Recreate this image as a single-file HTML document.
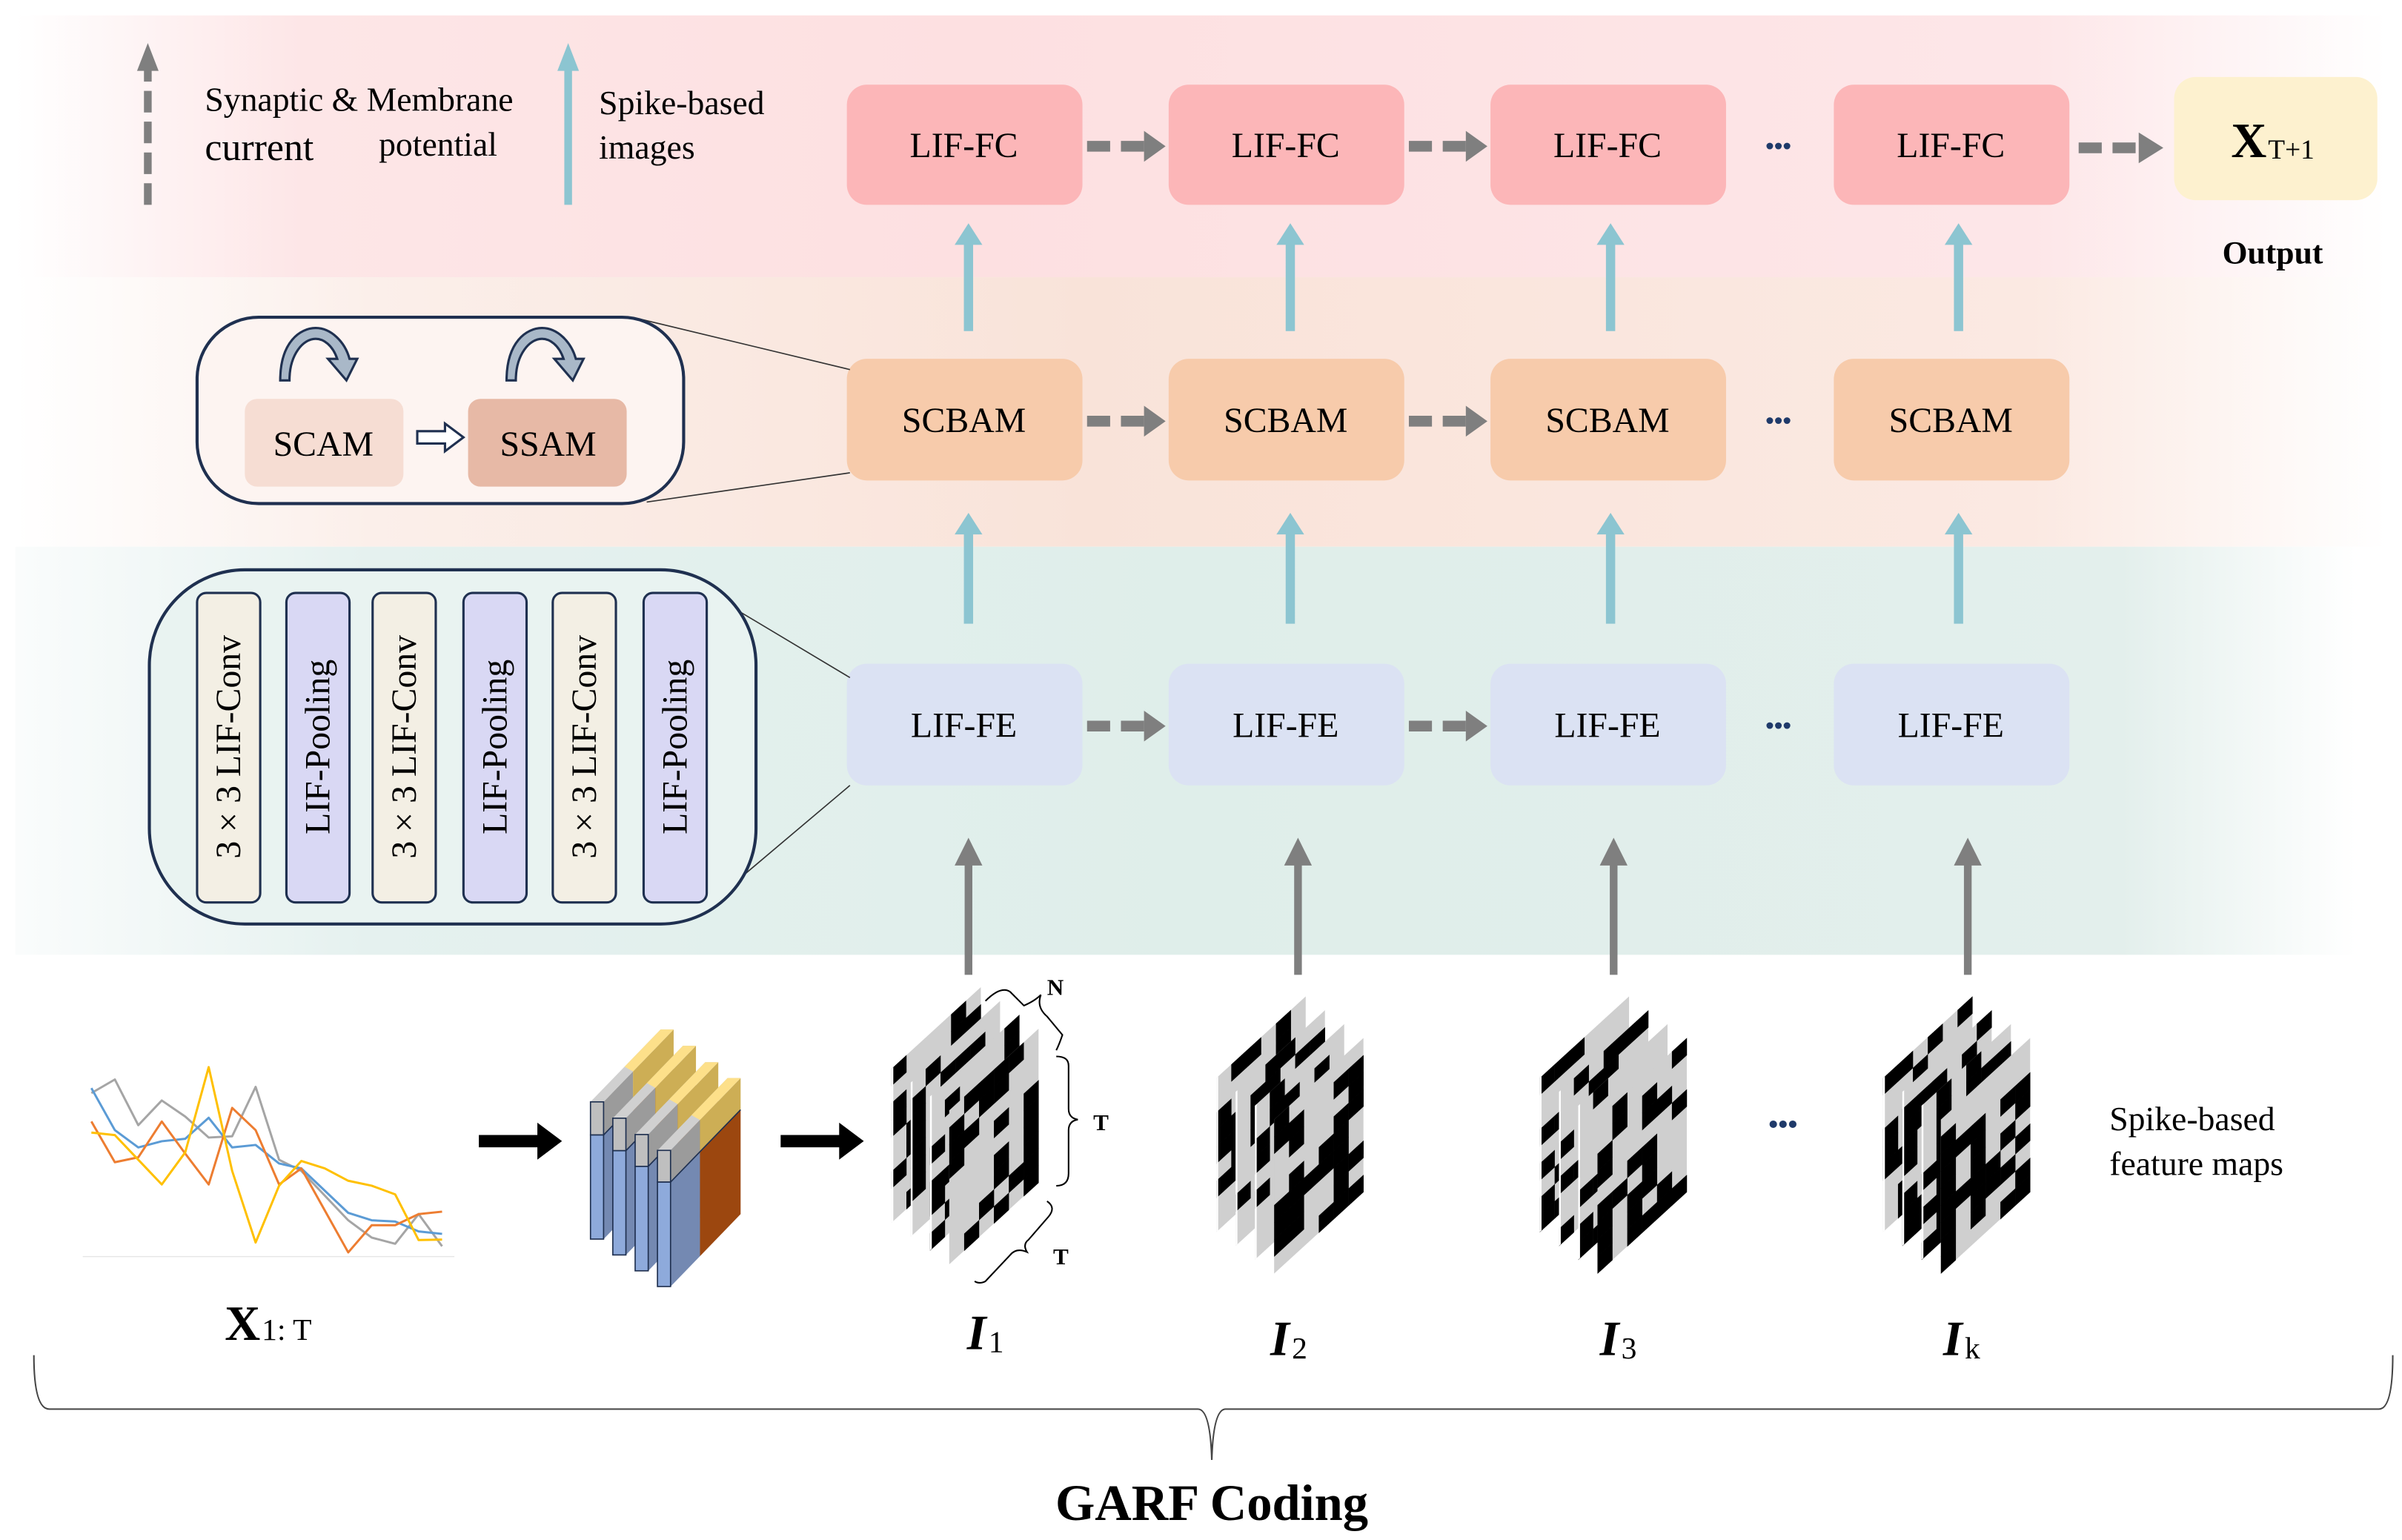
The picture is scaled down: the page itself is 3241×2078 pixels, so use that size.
<!DOCTYPE html>
<html><head><meta charset="utf-8"><style>
html,body{margin:0;padding:0;background:#fff;}
svg{display:block;}
text{font-family:"Liberation Serif",serif;}
</style></head><body>
<svg id="s" width="3241" height="2078" viewBox="0 0 1560 1000" preserveAspectRatio="none" xmlns="http://www.w3.org/2000/svg">
<defs>
<linearGradient id="gp" x1="0" x2="1" y1="0" y2="0">
<stop offset="0" stop-color="#fff"/><stop offset="0.12" stop-color="#fde6e7"/><stop offset="0.4" stop-color="#fde0e1"/><stop offset="0.85" stop-color="#fde6e8"/><stop offset="1" stop-color="#fff"/></linearGradient>
<linearGradient id="go" x1="0" x2="1" y1="0" y2="0">
<stop offset="0" stop-color="#fff"/><stop offset="0.15" stop-color="#fbefea"/><stop offset="0.45" stop-color="#f9e3d9"/><stop offset="0.85" stop-color="#fbe9e2"/><stop offset="1" stop-color="#fff"/></linearGradient>
<linearGradient id="gt" x1="0" x2="1" y1="0" y2="0">
<stop offset="0" stop-color="#fafcfc"/><stop offset="0.15" stop-color="#e5f1ef"/><stop offset="0.5" stop-color="#dfeeea"/><stop offset="0.9" stop-color="#e3efec"/><stop offset="1" stop-color="#fff"/></linearGradient>
<marker id="ag" markerWidth="4" markerHeight="4" refX="2" refY="2" orient="auto" markerUnits="strokeWidth"><path d="M0,0 L4,2 L0,4z" fill="#7f7f7f"/></marker>
</defs>
<rect x="10" y="10" width="1540" height="170" fill="url(#gp)"/>
<rect x="10" y="180" width="1540" height="175" fill="url(#go)"/>
<rect x="10" y="355" width="1520" height="265" fill="url(#gt)"/>

<!-- legend -->
<line x1="96" y1="133" x2="96" y2="44" stroke="#7f7f7f" stroke-width="5" stroke-dasharray="14,6"/>
<path d="M89,46 L96,28 L103,46z" fill="#7f7f7f"/>
<line x1="369" y1="133" x2="369" y2="44" stroke="#8cc5d1" stroke-width="5"/>
<path d="M362,46 L369,28 L376,46z" fill="#8cc5d1"/>
<text x="133" y="72" font-size="22">Synaptic &amp; Membrane</text>
<text x="133" y="104" font-size="25">current</text>
<text x="246" y="101" font-size="22">potential</text>
<text x="389" y="74" font-size="22">Spike-based</text>
<text x="389" y="103" font-size="22">images</text>

<g id="boxes"></g>

<!-- output -->
<rect x="1412" y="50" width="132" height="80" rx="14" fill="#fdf1cf"/>
<text x="1449" y="102" font-size="32" font-weight="bold">X</text>
<text x="1473" y="103" font-size="18">T+1</text>
<text x="1476" y="171" font-size="21" font-weight="bold" text-anchor="middle">Output</text>

<!-- SCAM callout -->
<line x1="415" y1="207" x2="552" y2="240" stroke="#333" stroke-width="0.8"/>
<line x1="420" y1="326" x2="552" y2="307" stroke="#333" stroke-width="0.8"/>
<rect x="128" y="206" width="316" height="121" rx="40" fill="#fdf4f1" stroke="#1f3050" stroke-width="2"/>
<rect x="159" y="259" width="103" height="57" rx="8" fill="#f6ddd3"/>
<rect x="304" y="259" width="103" height="57" rx="8" fill="#e7b9a6"/>
<text x="210" y="296" font-size="23" text-anchor="middle">SCAM</text>
<text x="356" y="296" font-size="23" text-anchor="middle">SSAM</text>
<path d="M271,280 h18 v-5 l12,9 l-12,9 v-5 h-18z" fill="#fff" stroke="#1f3050" stroke-width="1.5"/>
<g fill="#a9b8c8" stroke="#1f3050" stroke-width="1.5">
<path d="M182,247 C182,222 195,213 205,213 C215,213 224,222 227,233 L232,233 L225,247 L213,233 L219,233 C216,224 210,220 205,220 C197,220 188,230 188,247z"/>
<path d="M329,247 C329,222 342,213 352,213 C362,213 371,222 374,233 L379,233 L372,247 L360,233 L366,233 C363,224 357,220 352,220 C344,220 335,230 335,247z"/>
</g>

<!-- LIF-FE callout -->
<line x1="455" y1="382" x2="552" y2="440" stroke="#333" stroke-width="0.8"/>
<line x1="475" y1="575" x2="552" y2="510" stroke="#333" stroke-width="0.8"/>
<rect x="97" y="370" width="394" height="230" rx="62" fill="#e9f3f1" stroke="#1f3050" stroke-width="2"/>
<g id="fe"></g>

<!-- bottom -->
<g id="chart" transform="translate(48.12,673.7) scale(0.1604)" fill="none" stroke-width="9" stroke-linejoin="round">
<line x1="35" y1="887" x2="1540" y2="887" stroke="#e6e6e6" stroke-width="4"/>
<polyline stroke="#a5a5a5" points="70,225 165,170 260,355 355,255 450,320 545,405 640,400 735,200 830,495 920,540 1015,640 1110,740 1205,810 1300,835 1395,715 1490,845"/>
<polyline stroke="#5b9bd5" points="70,205 165,375 260,445 355,420 450,410 545,325 640,445 735,435 830,510 920,530 1015,620 1110,710 1205,740 1300,745 1395,785 1490,795"/>
<polyline stroke="#ed7d31" points="70,340 165,505 260,485 355,340 450,470 545,595 640,285 735,375 830,595 920,530 1015,700 1110,870 1205,760 1300,760 1395,715 1490,705"/>
<polyline stroke="#ffc000" points="70,385 165,395 260,495 355,595 450,465 545,120 640,540 735,830 830,600 920,500 1015,530 1110,580 1205,600 1300,635 1395,820 1490,818"/>
</g>
<path d="M311,737 h38 v-8 l16,12 l-16,12 v-8 h-38z" fill="#000"/>
<path d="M507,737 h38 v-8 l16,12 l-16,12 v-8 h-38z" fill="#000"/>
<g id="slabs"></g>
<g id="maps"></g>

<text x="146" y="870" font-size="32" font-weight="bold">X</text>
<text x="170" y="870" font-size="20">1:  T</text>
<text x="628" y="876" font-size="32" font-weight="bold" font-style="italic">I</text><text x="642" y="878" font-size="20">1</text>
<text x="825" y="880" font-size="32" font-weight="bold" font-style="italic">I</text><text x="839" y="882" font-size="20">2</text>
<text x="1039" y="880" font-size="32" font-weight="bold" font-style="italic">I</text><text x="1053" y="882" font-size="20">3</text>
<text x="1262" y="880" font-size="32" font-weight="bold" font-style="italic">I</text><text x="1276" y="882" font-size="20">k</text>
<text x="1370" y="734" font-size="22">Spike-based</text>
<text x="1370" y="763" font-size="22">feature maps</text>
<text x="1158" y="736" font-size="18" fill="#1f3a6a" text-anchor="middle" font-weight="bold">•••</text>
<text x="680" y="646" font-size="15" font-family="Liberation Sans" font-weight="bold">N</text>
<text x="710" y="734" font-size="15" font-family="Liberation Sans" font-weight="bold">T</text>
<text x="684" y="821" font-size="15" font-family="Liberation Sans" font-weight="bold">T</text>
<path d="M640,650 Q650,640 656,644 L665,653 Q672,650 676,646 Q673,654 680,660 L690,672 Q688,678 686,682" fill="none" stroke="#000" stroke-width="1"/>
<path d="M686,686 Q694,686 694,692 L694,720 Q694,726 700,727 Q694,728 694,734 L694,762 Q694,770 686,770" fill="none" stroke="#000" stroke-width="1"/>
<path d="M680,780 Q686,784 681,790 L668,805 Q664,808 667,813 Q660,810 656,815 L640,832 Q636,834 633,832" fill="none" stroke="#000" stroke-width="1"/>

<path d="M22,880 Q22,915 32,915 L778,915 Q786,915 787,948 Q788,915 796,915 L1545,915 Q1554,915 1554,880" fill="none" stroke="#444" stroke-width="1"/>
<text x="787" y="987" font-size="33" font-weight="bold" text-anchor="middle">GARF  Coding</text>
</svg>
<script>
(function(){
var NS="http://www.w3.org/2000/svg";
function el(p,t,a,txt){var e=document.createElementNS(NS,t);for(var k in a)e.setAttribute(k,a[k]);if(txt!=null)e.textContent=txt;p.appendChild(e);return e;}
var B=document.getElementById('boxes');
var xs=[550,759,968,1191];
var rows=[{y:55,h:78,f:'#fcb6b8',t:'LIF-FC'},{y:233,h:79,f:'#f7cbab',t:'SCBAM'},{y:431,h:79,f:'#dbe2f3',t:'LIF-FE'}];
rows.forEach(function(r,ri){
 xs.forEach(function(x,i){
  el(B,'rect',{x:x,y:r.y,width:153,height:r.h,rx:13,fill:r.f});
  el(B,'text',{x:x+76,y:r.y+r.h/2+8,'font-size':23,'text-anchor':'middle'},r.t);
  if(i<2){var y=r.y+r.h/2+1;
   el(B,'line',{x1:x+156,y1:y,x2:x+195,y2:y,stroke:'#7f7f7f','stroke-width':7,'stroke-dasharray':'15,7'});
   el(B,'path',{d:'M'+(x+193)+','+(y-10)+' L'+(x+207)+','+y+' L'+(x+193)+','+(y+10)+'z',fill:'#7f7f7f'});}
  if(i==2){el(B,'text',{x:1155,y:r.y+r.h/2+6,'font-size':16,'fill':'#1f3a6a','text-anchor':'middle','font-weight':'bold'},'•••');}
 });
});
// last FC -> output
el(B,'line',{x1:1350,y1:96,x2:1390,y2:96,stroke:'#7f7f7f','stroke-width':7,'stroke-dasharray':'15,7'});
el(B,'path',{d:'M1389,86 L1405,96 L1389,106z',fill:'#7f7f7f'});
// blue arrows
var cx=[629,838,1046,1272];
cx.forEach(function(c){
 [[215,145],[405,333]].forEach(function(a){
  el(B,'line',{x1:c,y1:a[0],x2:c,y2:a[1]+12,stroke:'#8cc5d1','stroke-width':6});
  el(B,'path',{d:'M'+(c-9)+','+(a[1]+14)+' L'+c+','+a[1]+' L'+(c+9)+','+(a[1]+14)+'z',fill:'#8cc5d1'});
 });
});
var gx=[629,843,1048,1278];
gx.forEach(function(c){
 el(B,'line',{x1:c,y1:633,x2:c,y2:560,stroke:'#7f7f7f','stroke-width':5});
 el(B,'path',{d:'M'+(c-9)+','+562+' L'+c+','+544+' L'+(c+9)+','+562+'z',fill:'#7f7f7f'});
});
// FE columns
var F=document.getElementById('fe');
var fx=[128,186,242,301,359,418];
fx.forEach(function(x,i){
 var conv=i%2==0;
 el(F,'rect',{x:x,y:385,width:41,height:201,rx:6,fill:conv?'#f3efe4':'#d9d8f4',stroke:'#1f3050','stroke-width':1.5});
 var t=el(F,'text',{x:0,y:0,'font-size':23,'text-anchor':'middle',transform:'translate('+(x+28)+',485) rotate(-90)'},conv?'3 × 3  LIF-Conv':'LIF-Pooling');
});
// slabs
var S=document.getElementById('slabs');
for(var k=0;k<4;k++){
 var x=383.5+k*14.5, top=715.5+k*10.6, bnd=737+k*10.2, bot=804.6+k*10.3;
 if(k==3){top=747;bnd=767.6;bot=835.4;x=427;}
 var fw=8.5, sx=x+fw, w=45.5, dy=47, hw=w*0.42;
 // side left part gray/blue
 el(S,'path',{d:'M'+sx+','+top+' L'+(sx+hw)+','+(top-dy*hw/w)+' L'+(sx+hw)+','+(bnd-dy*hw/w)+' L'+sx+','+bnd+'z',fill:'#9b9b9b'});
 el(S,'path',{d:'M'+sx+','+bnd+' L'+(sx+hw)+','+(bnd-dy*hw/w)+' L'+(sx+hw)+','+(bot-dy*hw/w)+' L'+sx+','+bot+'z',fill:'#7489b2'});
 el(S,'path',{d:'M'+(sx+hw)+','+(top-dy*hw/w)+' L'+(sx+w)+','+(top-dy)+' L'+(sx+w)+','+(bnd-dy)+' L'+(sx+hw)+','+(bnd-dy*hw/w)+'z',fill:'#cdae55'});
 el(S,'path',{d:'M'+(sx+hw)+','+(bnd-dy*hw/w)+' L'+(sx+w)+','+(bnd-dy)+' L'+(sx+w)+','+(bot-dy)+' L'+(sx+hw)+','+(bot-dy*hw/w)+'z',fill:'#9c470f'});
 // top face
 el(S,'path',{d:'M'+x+','+top+' L'+sx+','+top+' L'+(sx+w)+','+(top-dy)+' L'+(x+w)+','+(top-dy)+'z',fill:'#d0d0d0'});
 el(S,'path',{d:'M'+(x+hw+3)+','+(top-dy*(hw+3)/w)+' L'+(sx+hw)+','+(top-dy*hw/w)+' L'+(sx+w)+','+(top-dy)+' L'+(x+w)+','+(top-dy)+'z',fill:'#fde08a'});
 el(S,'rect',{x:x,y:top,width:fw,height:bnd-top,fill:'#bfbfbf',stroke:'#1f3050','stroke-width':0.8});
 el(S,'rect',{x:x,y:bnd,width:fw,height:bot-bnd,fill:'#8eaadb',stroke:'#1f3050','stroke-width':0.8});
 el(S,'line',{x1:sx,y1:bnd,x2:sx+w,y2:bnd-dy,stroke:'#1f3050','stroke-width':0.8});
}
// spike maps
var M=document.getElementById('maps');
var seed=7;function rnd(){seed=(seed*16807)%2147483647;return seed/2147483647;}
var mx=[579,790,1000,1223], my=[694,700,700,700];
mx.forEach(function(x0,mi){
 for(var L=0;L<4;L++){
  var x=x0+L*12.5, y=my[mi]+L*9;
  var g=el(M,'g',{transform:'matrix(58,-53,0,100,'+x+','+y+')'});
  el(g,'rect',{x:0,y:0,width:1,height:1,fill:'#cfcfcf'});
  var cols=6,rws=9;
  for(var c=0;c<cols;c++)for(var r=0;r<rws;r++){
   if(rnd()<0.45) el(g,'rect',{x:c/cols,y:r/rws,width:1/cols+0.002,height:1/rws+0.002,fill:'#000'});
  }
  if(L<3) el(g,'rect',{x:0,y:0,width:0.02,height:1,fill:'#fff'});
 }
});
})();
</script>
</body></html>
